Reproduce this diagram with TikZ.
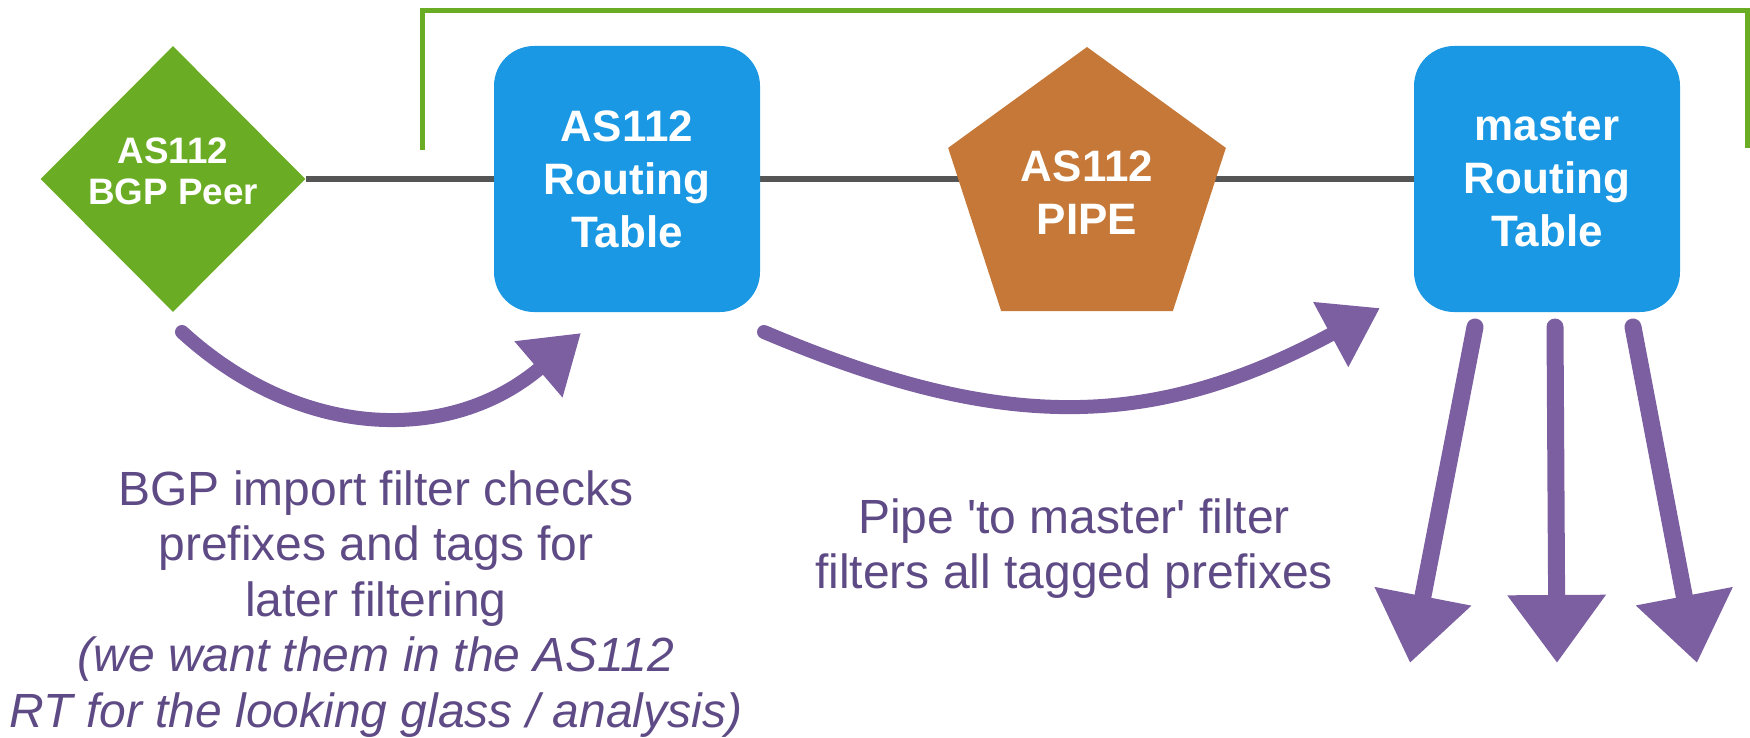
\documentclass[tikz,border=0pt]{standalone}
\usepackage{fontspec}
\setmainfont{Liberation Sans}
\usetikzlibrary{shapes.geometric,arrows.meta,backgrounds}
\definecolor{peergreen}{HTML}{6AAD24}
\definecolor{tableblue}{HTML}{1B98E3}
\definecolor{pipebrown}{HTML}{C57837}
\definecolor{chalkpurple}{HTML}{7B5FA1}
\definecolor{notepurple}{HTML}{5E4A85}
\definecolor{linkgray}{HTML}{555555}
\tikzset{
    peerbox/.style={diamond, fill=peergreen, text=white, align=center,
        font=\fontsize{18.4}{20.5}\selectfont\bfseries, text depth=8pt,
        minimum width=132.5pt, minimum height=133pt, inner sep=0pt},
    rtbox/.style={rounded corners=20pt, fill=tableblue, text=white, align=center,
        font=\fontsize{22}{26.5}\selectfont\bfseries,
        minimum width=133pt, minimum height=133pt, inner sep=0pt},
    pipebox/.style={regular polygon, regular polygon sides=5, fill=pipebrown,
        text=white, align=center, font=\fontsize{22}{26.5}\selectfont\bfseries,
        minimum size=146pt, inner sep=0pt},
    link/.style={draw=linkgray, line width=3pt},
    bracket/.style={draw=peergreen, line width=2.5pt},
    chalk/.style={draw=chalkpurple, line width=7pt, line cap=round,
        -{Triangle[width=35pt,length=28pt]}},
    chalkdown/.style={chalk, line width=8.5pt,
        -{Triangle[width=47pt,length=34pt]}},
    notetext/.style={text=notepurple, align=center, anchor=north, inner sep=0pt,
        font=\fontsize{24}{27.75}\selectfont}
}
\newcommand\DownArrow[2]{%
    \draw[chalkdown] (#1) -- (#2);
}

\begin{document}
\begin{tikzpicture}[x=0.5pt,y=-0.5pt]
    \useasboundingbox (0,0) rectangle (1750,738);
    \node[peerbox] (Peer) at (173,179) {AS112\\BGP Peer};
    \node[rtbox] (AsTable) at (627,179) {AS112\\Routing\\Table};
    \node[pipebox] (Pipe) at (1087,193) {AS112\\PIPE};
    \node[rtbox] (MasterTable) at (1547,179) {master\\Routing\\Table};
    \begin{scope}[on background layer]
        \draw[link] (Peer) -- (MasterTable);
    \end{scope}
    % bracket
    \coordinate (BracketL) at (422,150);
    \coordinate (BracketR) at (1747,148);
    \draw[bracket] (BracketL) -- ++(0,-139) -| (BracketR);
    % import and pipe
    \coordinate (PeerOut) at (182,332);
    \coordinate (AsIn) at (581,333);
    \coordinate (AsOut) at (764,332);
    \coordinate (MasterIn) at (1380,308);
    \draw[chalk] (PeerOut) .. controls (300,440) and (450,445) .. (AsIn);
    \draw[chalk] (AsOut) .. controls (1000,432) and (1150,432) .. (MasterIn);
    % export
    \coordinate (OutA) at (1475,327);
    \coordinate (OutB) at (1555,327);
    \coordinate (OutC) at (1633,327);
    \coordinate (SinkA) at (1410,663);
    \coordinate (SinkB) at (1557,663);
    \coordinate (SinkC) at (1697,663);
    \DownArrow{OutA}{SinkA}
    \DownArrow{OutB}{SinkB}
    \DownArrow{OutC}{SinkC}
    \node[notetext] (ImportNote) at (376,470) {BGP import filter checks\\prefixes and tags for\\later filtering\\\itshape (we want them in the AS112\\\itshape RT for the looking glass / analysis)};
    \node[notetext] (PipeNote) at (1074,498) {Pipe \textquotesingle to master\textquotesingle{} filter\\filters all tagged prefixes};
\end{tikzpicture}
\end{document}
